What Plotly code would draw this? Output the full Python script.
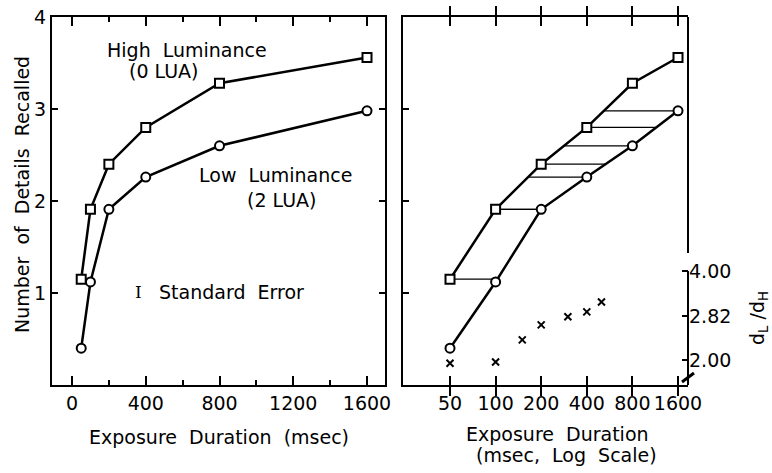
import numpy as np
import plotly.graph_objects as go

# ---------------- data ----------------
durations = [50, 100, 200, 400, 800, 1600]          # msec
high_lum = [1.15, 1.91, 2.40, 2.80, 3.28, 3.56]      # High Luminance (0 LUA)
low_lum = [0.40, 1.12, 1.91, 2.26, 2.60, 2.98]       # Low Luminance (2 LUA)
ratio_durations = [50, 100, 150, 200, 300, 400, 500]
ratio_values = [1.95, 1.97, 2.34, 2.63, 2.80, 2.91, 3.14]   # d_L / d_H
left_xticks = [0, 400, 800, 1200, 1600]
left_xminor = [200, 600, 1000, 1400]
y_ticks = [1, 2, 3, 4]
ratio_ticks = [2.0, 2.82, 4.0]
ratio_ticktext = ["2.00", "2.82", "4.00"]

W, H = 772, 473
FONT = "DejaVu Sans"
FS = 19


def px_x(p):
    return p / W


def px_y(p):
    return 1 - p / H


def interp_logx(y, xs, ys):
    lx = np.log10(xs)
    for i in range(len(ys) - 1):
        if ys[i] <= y <= ys[i + 1]:
            t = (y - ys[i]) / (ys[i + 1] - ys[i])
            return 10 ** (lx[i] + t * (lx[i + 1] - lx[i]))
    return None


# horizontal links between curves (equal performance)
link_x, link_y = [], []
for xv, yv in zip(durations, high_lum):
    if min(low_lum) < yv < max(low_lum):
        link_x += [xv, interp_logx(yv, durations, low_lum), None]
        link_y += [yv, yv, None]
for xv, yv in zip(durations, low_lum):
    if min(high_lum) < yv < max(high_lum):
        link_x += [interp_logx(yv, durations, high_lum), xv, None]
        link_y += [yv, yv, None]

fig = go.Figure()

sq = dict(symbol="square", size=9, color="white", line=dict(color="black", width=2))
ci = dict(symbol="circle", size=9, color="white", line=dict(color="black", width=2))
ln = dict(color="black", width=2.5)

# left panel
fig.add_trace(go.Scatter(x=durations, y=high_lum, mode="lines+markers", marker=sq, line=ln,
                         xaxis="x", yaxis="y", showlegend=False))
fig.add_trace(go.Scatter(x=durations, y=low_lum, mode="lines+markers", marker=ci, line=ln,
                         xaxis="x", yaxis="y", showlegend=False))

# right panel
fig.add_trace(go.Scatter(x=link_x, y=link_y, mode="lines", line=dict(color="black", width=1.3),
                         xaxis="x2", yaxis="y2", showlegend=False))
fig.add_trace(go.Scatter(x=durations, y=high_lum, mode="lines+markers", marker=sq, line=ln,
                         xaxis="x2", yaxis="y2", showlegend=False))
fig.add_trace(go.Scatter(x=durations, y=low_lum, mode="lines+markers", marker=ci, line=ln,
                         xaxis="x2", yaxis="y2", showlegend=False))
fig.add_trace(go.Scatter(x=ratio_durations, y=ratio_values, mode="markers",
                         marker=dict(symbol="x-thin", size=7, line=dict(color="black", width=2)),
                         xaxis="x2", yaxis="y3", showlegend=False))

L_left, L_right = 52, 385
R_left, R_right = 403, 688
P_top, P_bot = 17, 385
ydom = [px_y(P_bot), px_y(P_top)]

# left x range from tick pixel positions (0 at 72px, 1600 at 367px)
upp = 1600 / (367 - 72)
xr_left = [(L_left - 72) * upp, (L_right - 72) * upp]
# right x (log) range: 50 at 450px, 1600 at 678px
ppd = (678 - 450) / (np.log10(1600) - np.log10(50))
xr_right = [np.log10(50) - (450 - R_left) / ppd, np.log10(1600) + (R_right - 678) / ppd]
# ratio axis (log): 4.00 at 271px, 2.00 at 360px
ppl = (360 - 271) / np.log10(2)
yr_ratio = [np.log10(2) - (P_bot - 360) / ppl, np.log10(4) + (271 - P_top) / ppl]

tickfont = dict(family=FONT, size=FS, color="black")
common = dict(showgrid=False, zeroline=False, showline=True, linecolor="black", linewidth=2,
              tickcolor="black", tickfont=tickfont, tickangle=0, automargin=False)

fig.update_layout(
    width=W, height=H,
    margin=dict(l=0, r=0, t=0, b=0, pad=0),
    paper_bgcolor="white", plot_bgcolor="white",
    font=dict(family=FONT, size=FS, color="black"),
    xaxis=dict(domain=[px_x(L_left), px_x(L_right)], range=xr_left, tickvals=left_xticks,
               ticks="inside", ticklen=9, tickwidth=1.5, mirror="allticks", anchor="y",
               minor=dict(tickvals=left_xminor, ticks="inside", ticklen=5, tickwidth=1.5,
                          tickcolor="black"),
               **common),
    yaxis=dict(domain=ydom, range=[0, 4], tickvals=y_ticks, ticks="inside", ticklen=6,
               tickwidth=1.5, mirror="allticks", anchor="x", **common),
    xaxis2=dict(domain=[px_x(R_left), px_x(R_right)], type="log", range=xr_right,
                tickvals=durations, ticktext=[str(d) for d in durations],
                ticks="inside", ticklen=9, tickwidth=1.5, mirror="allticks", anchor="y2",
                **common),
    yaxis2=dict(domain=ydom, range=[0, 4], tickvals=[1, 2, 3], showticklabels=False,
                ticks="inside", ticklen=6, tickwidth=1.5, mirror=False, anchor="x2", **common),
    yaxis4=dict(overlaying="y2", side="right", anchor="x2", range=[0, 4], tickvals=[2, 3],
                showticklabels=False, ticks="inside", ticklen=6, tickwidth=1.5,
                showline=False, showgrid=False, zeroline=False, tickcolor="black",
                automargin=False),
    yaxis3=dict(overlaying="y2", side="right", anchor="x2", type="log", range=yr_ratio,
                tickvals=ratio_ticks, ticktext=ratio_ticktext, ticks="inside", ticklen=6,
                tickwidth=1.5, tickcolor="black", showline=False, showgrid=False,
                zeroline=False, tickfont=tickfont, automargin=False),
)

# right-edge frame pieces
top_of_ratio = (np.log10(4) - yr_ratio[0]) / (yr_ratio[1] - yr_ratio[0])
fig.add_shape(type="line", xref="x2 domain", yref="y2 domain", x0=1, x1=1,
              y0=(P_bot - 253) / (P_bot - P_top), y1=1, line=dict(color="black", width=2))
fig.add_shape(type="line", xref="x2 domain", yref="y3 domain", x0=1, x1=1,
              y0=0, y1=top_of_ratio, line=dict(color="black", width=2))
# axis break mark
fig.add_shape(type="line", xref="paper", yref="paper", x0=px_x(682), x1=px_x(694),
              y0=px_y(382), y1=px_y(373), line=dict(color="black", width=3))

ann = []


def add_text(text, x, y, angle=0, size=FS, family=FONT):
    ann.append(dict(text=text, x=px_x(x), y=px_y(y), xref="paper", yref="paper",
                    showarrow=False, xanchor="center", yanchor="middle", textangle=angle,
                    font=dict(family=family, size=size, color="black")))


add_text("High  Luminance", 187, 50)
add_text("(0 LUA)", 164, 71)
add_text("Low  Luminance", 275, 175)
add_text("(2 LUA)", 282, 200)
add_text("I", 138, 292, family="DejaVu Serif", size=17)
add_text("Standard  Error", 231, 292)
add_text("Exposure  Duration  (msec)", 219, 437)
add_text("Number  of  Details  Recalled", 22, 195, angle=-90)
add_text("Exposure  Duration", 557, 434)
add_text("(msec,  Log  Scale)", 566, 455)
add_text("d<sub>L</sub> /d<sub>H</sub>", 758, 318, angle=-90)
fig.update_layout(annotations=ann)

fig.write_html(
    "out.html",
    config={"responsive": False, "displayModeBar": False},
    post_script="document.body.style.margin='0px';document.body.style.overflow='hidden';",
)
